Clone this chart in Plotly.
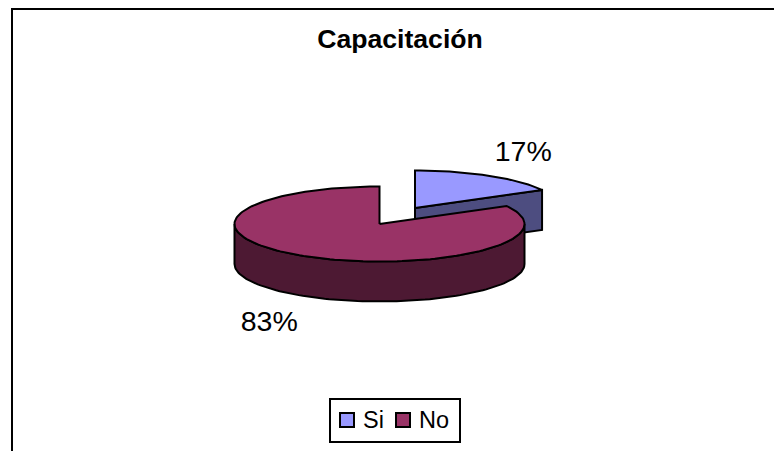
import numpy as np
import plotly.graph_objects as go

# --- data ---
categories = ["Si", "No"]
values = [17, 83]
title_text = "Capacitación"

# --- style ---
top_colors = ["#9999FF", "#993366"]
side_colors = ["#4D4D80", "#4D1933"]
centers = [(415, 208), (379.5, 224)]   # exploded slice apexes on the page
label_nudge = [(-1, 1), (-1, 5)]
RX, RY, DEPTH = 145, 37.5, 40
LINE = dict(color="black", width=2)
legend_swatch_x = [347, 403]
legend_text_x = [363, 419]
legend_y = 420

total = sum(values)
bounds = np.cumsum([0] + values) / total * 2 * np.pi


def rim(c, a0, a1, dy=0.0):
    t = np.linspace(a0, a1, max(2, int((a1 - a0) * 30)))
    return c[0] + RX * np.sin(t), c[1] - RY * np.cos(t) + dy


def poly(xs, ys, color):
    return go.Scatter(x=np.r_[xs, xs[0]], y=np.r_[ys, ys[0]], mode="lines", fill="toself",
                      fillcolor=color, line=LINE, showlegend=False, hoverinfo="skip")


fig = go.Figure()
for i in range(len(values)):
    c, a0, a1 = centers[i], bounds[i], bounds[i + 1]
    # visible cut face on the trailing edge of a back-facing slice
    if a1 < np.pi / 2:
        rx_, ry_ = rim(c, a1, a1)
        fig.add_trace(poly(np.r_[c[0], rx_[0], rx_[0], c[0]],
                           np.r_[c[1], ry_[0], ry_[0] + DEPTH, c[1] + DEPTH], side_colors[i]))
    # front wall
    w0, w1 = max(a0, np.pi / 2), min(a1, 3 * np.pi / 2)
    if w1 > w0:
        tx, ty = rim(c, w0, w1)
        bx, by = rim(c, w0, w1, DEPTH)
        fig.add_trace(poly(np.r_[tx, bx[::-1]], np.r_[ty, by[::-1]], side_colors[i]))
    # top surface
    tx, ty = rim(c, a0, a1)
    fig.add_trace(poly(np.r_[c[0], tx], np.r_[c[1], ty], top_colors[i]))

# percentage labels
for i in range(len(values)):
    c = centers[i]
    mid = (bounds[i] + bounds[i + 1]) / 2
    lower = DEPTH if np.cos(mid) < 0 else 0
    fig.add_trace(go.Scatter(
        x=[c[0] + 1.48 * RX * np.sin(mid) + label_nudge[i][0]],
        y=[c[1] - 1.7 * RY * np.cos(mid) + lower + label_nudge[i][1]],
        mode="text", text=[f"{round(values[i] / total * 100)}%"],
        textposition="middle center",
        textfont=dict(family="Liberation Sans", size=28.5, color="black"),
        showlegend=False, hoverinfo="skip"))

# legend entries, placed by hand so the spacing follows the reference
for name, col, sx, tx in zip(categories, top_colors, legend_swatch_x, legend_text_x):
    fig.add_trace(go.Scatter(x=[sx], y=[legend_y], mode="markers", name=name, showlegend=False,
                             hoverinfo="skip",
                             marker=dict(symbol="square", size=14, color=col,
                                         line=dict(color="black", width=2))))
    fig.add_trace(go.Scatter(x=[tx], y=[legend_y + 2], mode="text", text=[name], showlegend=False,
                             hoverinfo="skip", textposition="middle right",
                             textfont=dict(family="Liberation Sans", size=23.5, color="black")))

fig.update_layout(
    width=774, height=451, margin=dict(l=0, r=0, t=0, b=0),
    paper_bgcolor="white", plot_bgcolor="white", showlegend=False,
    xaxis=dict(range=[0, 774], visible=False, fixedrange=True),
    yaxis=dict(range=[451, 0], visible=False, fixedrange=True),
    title=dict(text=f"<b>{title_text}</b>", x=400 / 774, xanchor="center", y=1 - 39 / 451, yanchor="middle",
               font=dict(family="Liberation Sans", size=26.6, color="black")),
    shapes=[
        dict(type="path", xref="x", yref="y", path="M 12 480 L 12 9 L 800 9",
             line=dict(color="black", width=2), layer="below"),
        dict(type="rect", xref="x", yref="y", x0=330, y0=399, x1=460, y1=442,
             line=dict(color="black", width=2), fillcolor="white", layer="below"),
    ],
)
fig.write_html("out.html", config=dict(displayModeBar=False),
               post_script="document.body.style.margin='0';")
